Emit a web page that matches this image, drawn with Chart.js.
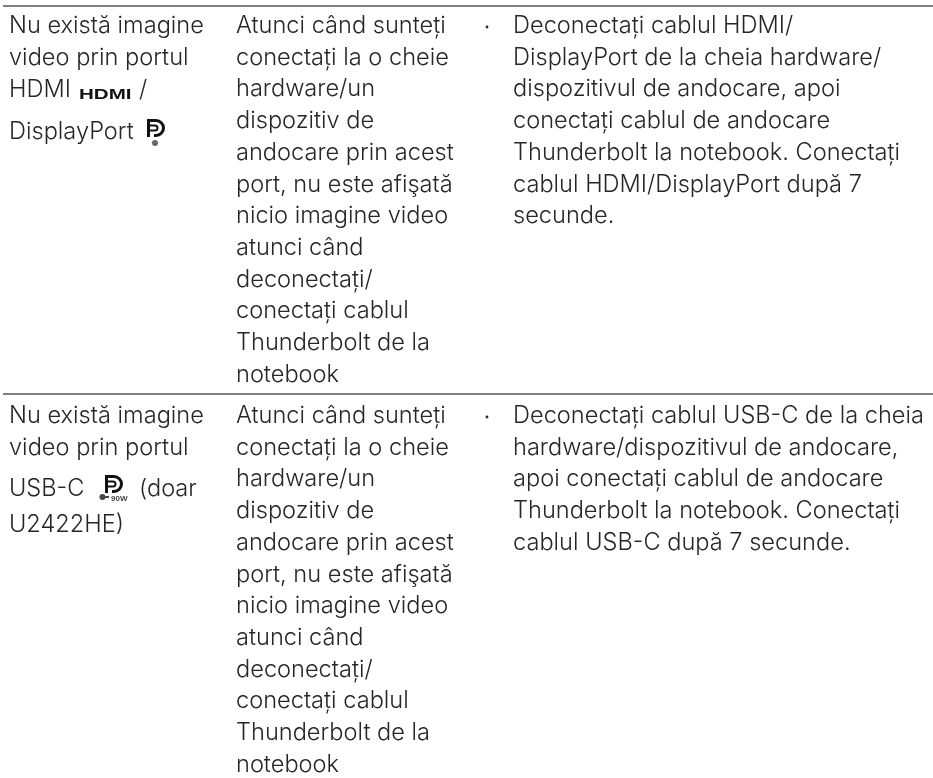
<!DOCTYPE html>
<html><head><meta charset="utf-8">
<script src="https://cdn.jsdelivr.net/npm/chart.js@4"></script>
<style>html,body{margin:0;padding:0;background:#fff}canvas{display:block}</style>
</head><body><canvas id="c" width="933" height="778"></canvas>
<script>
const ruleRows = [6, 394];
const ruleStart = 3, ruleEnd = 933;
const colOneX = 9, colTwoX = 236, bulletX = 487, colThreeX = 513;
const symptomTop = [["Nu există imagine",33],["video prin portul",65],["HDMI",97],["/",97,139],["DisplayPort",139]];
const symptomBottom = [["Nu există imagine",423],["video prin portul",455],["USB-C",496],["(doar",496,139],["U2422HE)",531.5]];
const detailLines = ["Atunci când sunteți","conectați la o cheie","hardware/un","dispozitiv de","andocare prin acest","port, nu este afişată","nicio imagine video","atunci când","deconectați/","conectați cablul","Thunderbolt de la","notebook"];
const fixTop = ["Deconectați cablul HDMI/","DisplayPort de la cheia hardware/","dispozitivul de andocare, apoi","conectați cablul de andocare","Thunderbolt la notebook. Conectați","cablul HDMI/DisplayPort după 7","secunde."];
const fixBottom = ["Deconectați cablul USB-C de la cheia","hardware/dispozitivul de andocare,","apoi conectați cablul de andocare","Thunderbolt la notebook. Conectați","cablul USB-C după 7 secunde."];
const rowFirstBaseline = [33, 423];
const linePitch = 31.72;

const textPlugin = { id:'docText', afterDraw(ch){
  const g = ch.ctx, X = ch.scales.x, Y = ch.scales.y;
  g.save();
  g.fillStyle = '#262626'; g.textBaseline='alphabetic'; g.textAlign='left';
  g.font = '300 23.6px Inter'; g.letterSpacing='0px';
  const put=(t,x,y)=>g.fillText(t,X.getPixelForValue(x),Y.getPixelForValue(y));
  symptomTop.forEach(([t,y,x])=>put(t,x||colOneX,y));
  symptomBottom.forEach(([t,y,x])=>put(t,x||colOneX,y));
  rowFirstBaseline.forEach((b,r)=>{
    detailLines.forEach((t,i)=>put(t,colTwoX,b+i*linePitch));
    (r?fixBottom:fixTop).forEach((t,i)=>put(t,colThreeX,b+i*linePitch));
    g.beginPath(); g.arc(X.getPixelForValue(bulletX),Y.getPixelForValue(b-6),1.4,0,7); g.fill();
  });
  // HDMI logo
  g.fillStyle='#111'; g.font='900 14px "Liberation Sans"';
  g.save(); g.translate(79,99); g.scale(1.47,1); g.fillText('HDMI',0,0); g.restore();
  const dp=(x,y)=>{ g.strokeStyle='#111'; g.lineWidth=3; g.beginPath();
    g.moveTo(x,y+1.5); g.lineTo(x+9,y+1.5); g.arc(x+9,y+9,7.5,-Math.PI/2,Math.PI/2); g.lineTo(x+7,y+16.5); g.stroke();
    g.beginPath(); g.moveTo(x+1.5,y+1.5); g.lineTo(x+1.5,y+18); g.stroke();
    g.lineWidth=2; g.beginPath(); g.moveTo(x+2,y+6.5); g.lineTo(x+8,y+6.5); g.arc(x+8,y+9,2.5,-Math.PI/2,Math.PI/2); g.lineTo(x+3,y+11.5); g.stroke();};
  dp(147,119); g.fillStyle='#666'; g.beginPath(); g.arc(155,143,3,0,7); g.fill();
  dp(105,475); g.fillStyle='#444'; g.font='700 8px "Liberation Sans"'; g.fillText('90W',111,500.5);
  g.fillRect(100,496,9,2); g.beginPath(); g.arc(102.5,497,3,0,7); g.fill();
  g.restore();
}};
new Chart(document.getElementById('c'),{
  type:'line',
  data:{datasets:ruleRows.map(y=>({data:[{x:ruleStart,y},{x:ruleEnd,y}],borderColor:'#808080',borderWidth:2,pointRadius:0}))},
  options:{responsive:false,animation:false,parsing:false,layout:{padding:0},
    plugins:{legend:{display:false},tooltip:{enabled:false},title:{display:false}},
    scales:{x:{type:'linear',min:0,max:933,display:false},y:{type:'linear',min:0,max:778,reverse:true,display:false}}},
  plugins:[textPlugin]
});
</script></body></html>
